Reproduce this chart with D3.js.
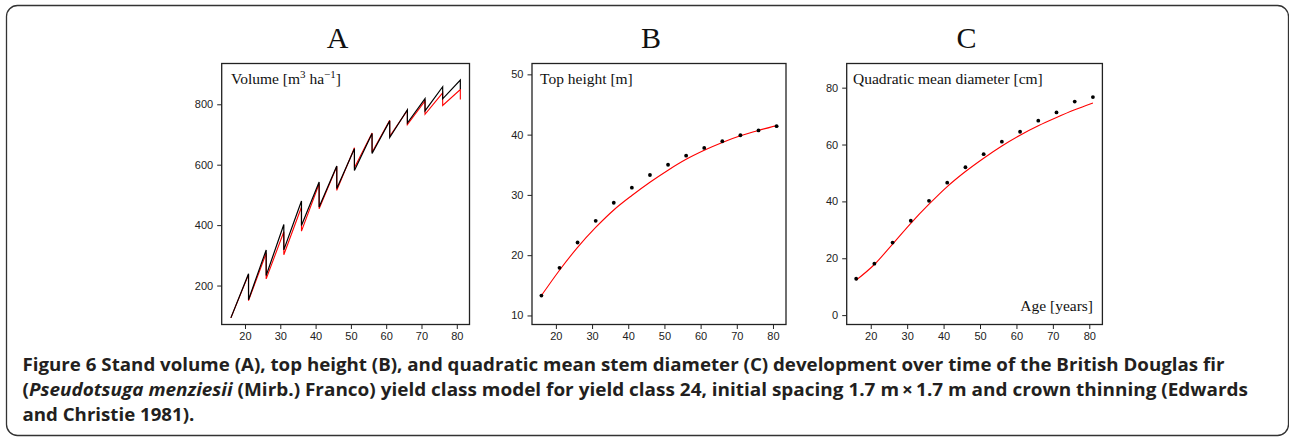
<!DOCTYPE html>
<html>
<head>
<meta charset="utf-8">
<script src="https://cdn.jsdelivr.net/npm/d3@7"></script>
<style>
	body { margin: 0; background: #fff; }
	svg { display: block; }
</style>
</head>
<body>
<svg id="fig" width="1289" height="437"></svg>
<script>
// ages of the yield table rows (years)
const ages = [16, 21, 26, 31, 36, 41, 46, 51, 56, 61, 66, 71, 76, 81];
const ageTicks = [20, 30, 40, 50, 60, 70, 80];

// A: standing volume before / after thinning (m3/ha)
const volTableBefore = [93, 239, 318, 402, 480, 543, 596, 653, 703, 745, 782, 819, 858, 880];
const volTableAfter = [93, 153, 233, 318, 399, 460, 521, 581, 637, 690, 738, 778, 818, 850];
const volModelBefore = [93, 236, 307, 378, 460, 537, 594, 656, 705, 747, 780, 811, 838, 849];
const volModelAfter = [93, 150, 222, 302, 380, 454, 515, 590, 641, 694, 733, 767, 796, 816];
const volTicks = [200, 400, 600, 800];

// B: top height (m)
const heightTable = [13.3, 17.9, 22.1, 25.7, 28.7, 31.2, 33.3, 35.0, 36.5, 37.8, 38.9, 39.9, 40.7, 41.4];
const heightModel = [13.3, 17.5, 21.3, 24.6, 27.5, 29.9, 32.1, 34.1, 35.9, 37.4, 38.7, 39.8, 40.7, 41.5];
const heightTicks = [10, 20, 30, 40, 50];

// C: quadratic mean diameter (cm)
const diamTable = [12.8, 18.1, 25.5, 33.2, 40.2, 46.6, 52.0, 56.6, 61.0, 64.5, 68.4, 71.3, 75.1, 76.7];
const diamModel = [12.3, 17.8, 25.0, 32.3, 39.0, 45.2, 50.5, 55.2, 59.5, 63.3, 66.6, 69.5, 72.2, 74.6];
const diamTicks = [0, 20, 40, 60, 80];

const captionLines = [
	{ len: 1202, parts: [
		{ t: "Figure 6 Stand volume (A), top height (B), and quadratic mean stem diameter (C) development over time of the British Douglas fir" },
	] },
	{ len: 1226, parts: [
		{ t: "(" },
		{ t: "Pseudotsuga menziesii", i: true },
		{ t: "\u00a0(Mirb.) Franco) yield class model for yield class 24, initial spacing 1.7 m\u2009\u00d7\u20091.7 m and crown thinning (Edwards" },
	] },
	{ len: 172, parts: [
		{ t: "and Christie 1981)." },
	] },
];

const svg = d3.select("#fig");
const TOP = 63.5, BOTTOM = 324.5;
const SERIF = "'Liberation Serif', 'DejaVu Serif', serif";
const SANS = "'Liberation Sans', Arial, sans-serif";
const INK = "#222";

// outer frame of the figure
svg.append("rect")
	.attr("x", 6.5)
	.attr("y", 5.5)
	.attr("width", 1282)
	.attr("height", 430)
	.attr("rx", 11)
	.attr("fill", "none")
	.attr("stroke", "#333")
	.attr("stroke-width", 1.3);

function drawPanel({ left, right, yDomain, yTicks, letter, label, labelX }) {
	const x = d3.scaleLinear().domain([13.4, 83.6]).range([left, right]);
	const y = d3.scaleLinear().domain(yDomain).range([BOTTOM, TOP]);

	svg.append("text")
		.attr("x", (left + right) / 2 - 8)
		.attr("y", 48)
		.attr("text-anchor", "middle")
		.style("font-family", SERIF)
		.style("font-size", "30px")
		.style("fill", "#111")
		.text(letter);

	const xAxis = svg.append("g")
		.attr("transform", `translate(0,${BOTTOM})`)
		.call(d3.axisBottom(x).tickValues(ageTicks).tickSize(4.5).tickPadding(3.5));
	const yAxis = svg.append("g")
		.attr("transform", `translate(${left},0)`)
		.call(d3.axisLeft(y).tickValues(yTicks).tickSize(4.5).tickPadding(4));

	[xAxis, yAxis].forEach(g => {
		g.select(".domain").remove();
		g.selectAll("line").attr("stroke", INK);
		g.selectAll("text")
			.attr("fill", "#222")
			.style("font-family", SANS)
			.style("font-size", "11px");
	});

	svg.append("rect")
		.attr("x", left)
		.attr("y", TOP)
		.attr("width", right - left)
		.attr("height", BOTTOM - TOP)
		.attr("fill", "none")
		.attr("stroke", INK)
		.attr("stroke-width", 1.3);

	svg.append("text")
		.attr("x", labelX)
		.attr("y", TOP + 20.5)
		.style("font-family", SERIF)
		.style("font-size", "15.5px")
		.style("fill", "#111")
		.html(label);

	return { x, y };
}

// saw-tooth path: value before thinning then drop to value after thinning
function sawPoints(before, after) {
	const pts = [];
	ages.forEach((a, i) => {
		pts.push([a, before[i]]);
		if (after[i] !== before[i]) pts.push([a, after[i]]);
	});
	return pts;
}

// ---- A ----
const A = drawPanel({
	left: 221.7, right: 469.5,
	yDomain: [71, 935], yTicks: volTicks,
	letter: "A",
	labelX: 231,
	label: "Volume [m<tspan dy='-6' font-size='11px'>3</tspan><tspan dy='6'> ha</tspan><tspan dy='-6' font-size='11px'>\u22121</tspan><tspan dy='6'>]</tspan>",
});
const sawLine = d3.line().x(d => A.x(d[0])).y(d => A.y(d[1]));
svg.append("path")
	.attr("d", sawLine(sawPoints(volModelBefore, volModelAfter)))
	.attr("fill", "none")
	.attr("stroke", "#f00")
	.attr("stroke-width", 1.1);
svg.append("path")
	.attr("d", sawLine(sawPoints(volTableBefore, volTableAfter)))
	.attr("fill", "none")
	.attr("stroke", "#000")
	.attr("stroke-width", 1.2);

// ---- B and C ----
function curveAndDots(panel, model, table) {
	const line = d3.line()
		.x((d, i) => panel.x(ages[i]))
		.y(d => panel.y(d))
		.curve(d3.curveMonotoneX);
	svg.append("path")
		.attr("d", line(model))
		.attr("fill", "none")
		.attr("stroke", "#f00")
		.attr("stroke-width", 1.1);
	svg.selectAll(null)
		.data(table)
		.enter()
		.append("circle")
		.attr("cx", (d, i) => panel.x(ages[i]))
		.attr("cy", d => panel.y(d))
		.attr("r", 1.9)
		.attr("fill", "#000");
}

const B = drawPanel({
	left: 532, right: 786,
	yDomain: [8.5, 51.8], yTicks: heightTicks,
	letter: "B",
	labelX: 540,
	label: "Top height [m]",
});
curveAndDots(B, heightModel, heightTable);

const C = drawPanel({
	left: 846.7, right: 1102.4,
	yDomain: [-3.3, 88.5], yTicks: diamTicks,
	letter: "C",
	labelX: 853,
	label: "Quadratic mean diameter [cm]",
});
curveAndDots(C, diamModel, diamTable);

svg.append("text")
	.attr("x", 1093)
	.attr("y", 311)
	.attr("text-anchor", "end")
	.style("font-family", SERIF)
	.style("font-size", "15.5px")
	.style("fill", "#111")
	.text("Age [years]");

// ---- caption ----
// each line is squeezed horizontally to the width it has in the reference
captionLines.forEach((line, li) => {
	const g = svg.append("g");
	let cx = 0;
	line.parts.forEach(p => {
		const t = g.append("text")
			.attr("x", cx)
			.style("font-family", "'Open Sans', 'Noto Sans', sans-serif")
			.style("font-size", "18.5px")
			.style("font-weight", "bold")
			.style("font-style", p.i ? "italic" : "normal")
			.style("fill", "#231f20")
			.text(p.t);
		cx += t.node().getComputedTextLength();
	});
	g.attr("transform", `translate(22.5,${371 + li * 25}) scale(${line.len / cx},1)`);
});
</script>
</body>
</html>
